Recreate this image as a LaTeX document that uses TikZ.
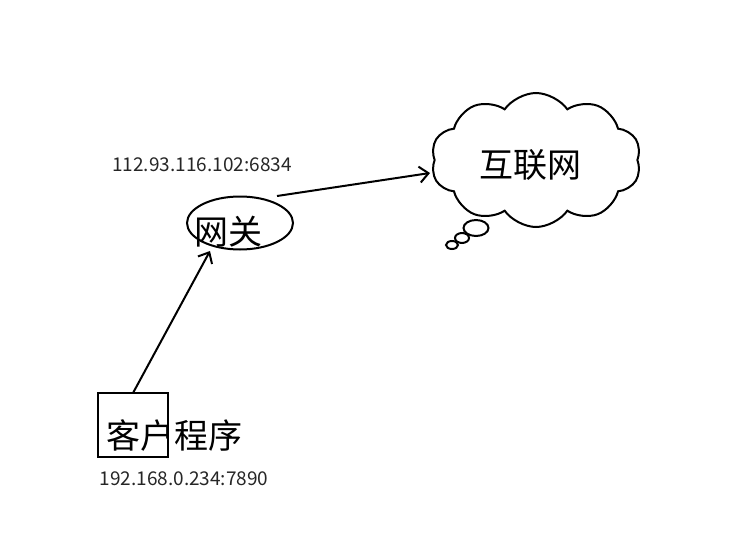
\documentclass[tikz,border=0pt]{standalone}
\usepackage{fontspec}
\setmainfont{Noto Sans CJK SC}
\usetikzlibrary{shapes.symbols,shapes.geometric,arrows.meta}
\begin{document}
\begin{tikzpicture}[x=1pt,y=-1pt,
  line width=2pt,
  big/.style={font=\fontsize{34}{36}\selectfont, inner sep=0pt},
  small/.style={font=\fontsize{19}{22}\selectfont, text=black!85, inner sep=0pt},
  conn/.style={-{Straight Barb[length=9pt,width=16pt,line width=2pt]}, line width=2pt}]
\useasboundingbox (0,0) rectangle (750,549);
% client
\node[draw, minimum width=70pt, minimum height=64pt, inner sep=0pt] (box) at (133,425) {};
\node[big] (client) at (174,436) {客户程序};
\node[small] (ip1) at (184,479) {192.168.0.234:7890};
% gateway
\node[draw, ellipse, minimum width=106pt, minimum height=53pt, inner sep=0pt] (gw) at (240,223) {};
\node[big] (gwt) at (228,232) {网关};
\node[small] (ip2) at (202,165) {112.93.116.102:6834};
% cloud
\node[draw, cloud, cloud puffs=10, cloud puff arc=110, aspect=1.6, minimum width=210pt, minimum height=134pt, inner sep=0pt] (net) at (536,160) {};
\node[big] (nett) at (530,165) {互联网};
\node[draw, ellipse, minimum width=25pt, minimum height=16pt, inner sep=0pt] (b1) at (476,228) {};
\node[draw, ellipse, minimum width=14pt, minimum height=10pt, inner sep=0pt] (b2) at (462,238) {};
\node[draw, ellipse, minimum width=12pt, minimum height=8pt, inner sep=0pt] (b3) at (452,245) {};
% arrows
\coordinate (a1) at (133,393);
\coordinate (a1e) at (210,251);
\draw[conn] (a1) -- (a1e);
\coordinate (a2) at (277,196);
\coordinate (a2e) at (430,173);
\draw[conn] (a2) -- (a2e);
\end{tikzpicture}
\end{document}
